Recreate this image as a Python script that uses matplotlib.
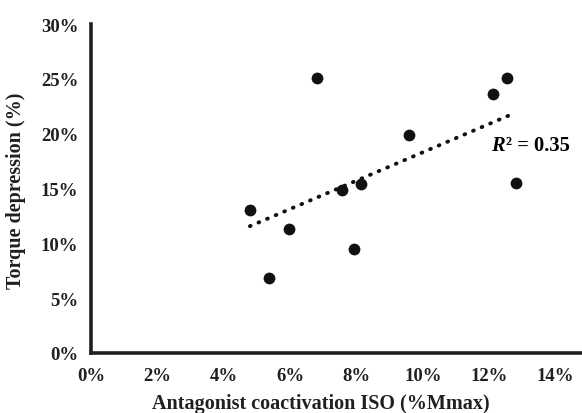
import matplotlib
matplotlib.use("Agg")
import matplotlib.pyplot as plt
import numpy as np
from matplotlib.ticker import FuncFormatter

plt.rcParams['font.family'] = ['Liberation Serif', 'DejaVu Serif']
plt.rcParams['font.weight'] = 'bold'

coactivation = [4.79, 5.36, 5.96, 6.80, 7.58, 7.92, 8.15, 9.59, 12.13, 12.53, 12.80]
torque_depression = [13.0, 6.8, 11.3, 25.1, 14.9, 9.5, 15.4, 19.9, 23.6, 25.1, 15.5]
x_ticks = [0, 2, 4, 6, 8, 10, 12, 14]
y_ticks = [0, 5, 10, 15, 20, 25, 30]
r2_label = "0.35"

W, H = 582, 414
fig = plt.figure(figsize=(W / 100, H / 100), dpi=100)
ax = fig.add_axes([91 / W, 1 - 354 / H, 1 - 91 / W, (354 - 25) / H])

ax.scatter(coactivation, torque_depression, s=72, color='#111111', zorder=3, linewidths=0)

slope, intercept = np.polyfit(coactivation, torque_depression, 1)
xs = np.array([min(coactivation), max(coactivation) - 0.2])
ax.plot(xs, slope * xs + intercept, color='#111111', linewidth=2.8,
        linestyle=(0, (0.2, 2.2)), dash_capstyle='round', zorder=2)

ax.text(12.06, 19.0, "R", fontsize=14.8, ha='left', va='center', style='italic', fontweight='bold')
ax.text(12.52, 19.0, "² = " + r2_label, fontsize=14.8, ha='left', va='center', fontweight='bold')

ax.set_xlim(0, 14.8)
ax.set_ylim(0, 30)
ax.set_xticks(x_ticks)
ax.set_yticks(y_ticks)
ax.xaxis.set_major_formatter(FuncFormatter(lambda v, p: f"{int(v)}%"))
ax.yaxis.set_major_formatter(FuncFormatter(lambda v, p: f"{int(v)}%"))
ax.tick_params(length=0, labelsize=13.5, colors='#231f20')
ax.tick_params(axis='x', pad=10)
ax.tick_params(axis='y', pad=9)
for lab in ax.get_xticklabels() + ax.get_yticklabels():
    lab.set_fontweight('bold')

for s in ['top', 'right']:
    ax.spines[s].set_visible(False)
for s in ['left', 'bottom']:
    ax.spines[s].set_linewidth(2.6)
    ax.spines[s].set_color('#231f20')

fig.text(321 / W, 1 - 404 / H, "Antagonist coactivation ISO (%Mmax)", fontsize=14.5,
         fontweight='bold', ha='center', va='center', color='#231f20')
fig.text(16 / W, 1 - 191 / H, "Torque depression (%)", fontsize=14.5, rotation=90,
         fontweight='bold', ha='center', va='center', color='#231f20')

fig.savefig("out.png", dpi=100)
